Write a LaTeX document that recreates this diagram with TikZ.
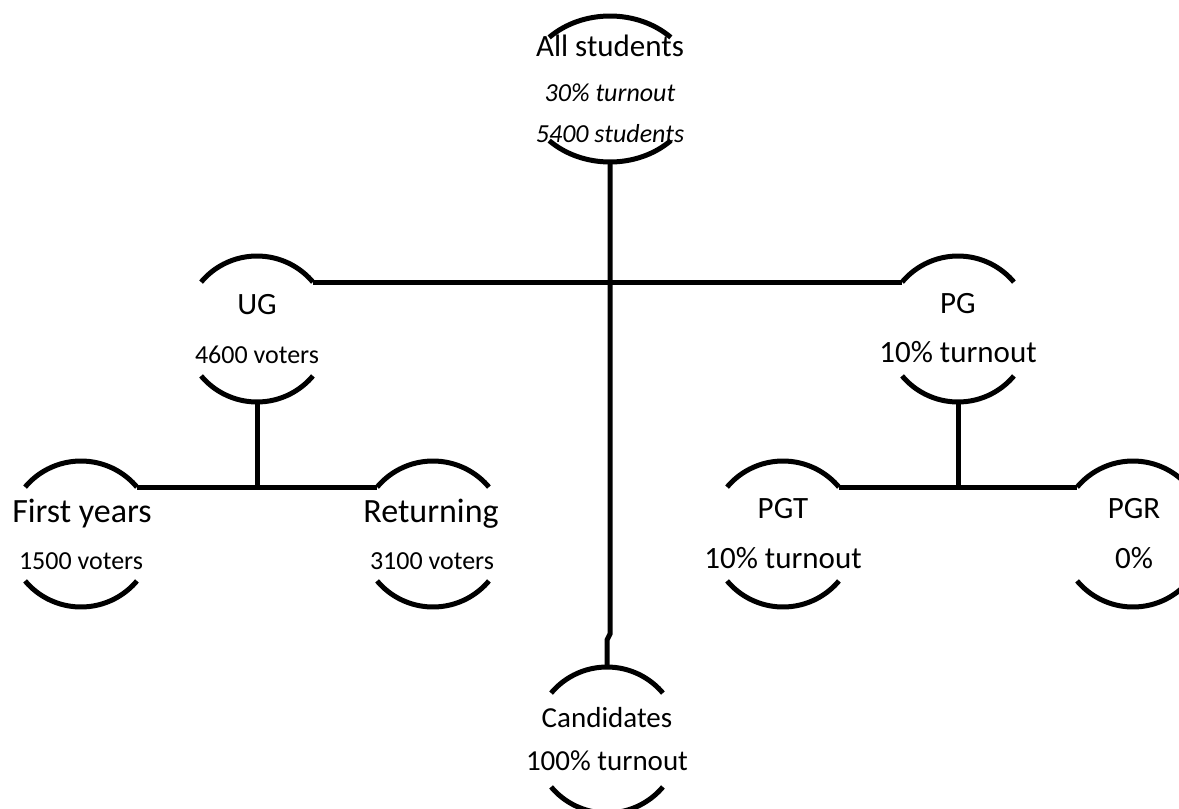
\documentclass[tikz,border=0pt]{standalone}
\usepackage{fontspec}
\setmainfont{Carlito}

\begin{document}
\begin{tikzpicture}[x=1pt, y=1pt, line width=5pt,
  group/.style={circle, minimum size=146pt, inner sep=0pt, outer sep=0pt},
  big/.style={anchor=base, font=\fontsize{31}{37}\selectfont},
  huge/.style={anchor=base, font=\fontsize{34}{40}\selectfont},
  small/.style={anchor=base, font=\fontsize{26}{31}\selectfont},
  mid/.style={anchor=base, font=\fontsize{29}{35}\selectfont}]
  \useasboundingbox (0,0) rectangle (1179,-809);
  \clip (0,0) rectangle (1179,-809);

  % groups
  \node[group] (all) at (610,-89) {};
  \node[group] (ug) at (257,-329) {};
  \node[group] (pg) at (958,-329) {};
  \node[group] (first) at (81,-534) {};
  \node[group] (ret) at (433,-534) {};
  \node[group] (pgt) at (783,-534) {};
  \node[group] (pgr) at (1133,-534) {};
  \node[group] (cand) at (607,-740) {};

  % arcs above and below each group
  \draw (all) ++(135:86pt and 73pt) arc[start angle=135, end angle=45, x radius=86pt, y radius=73pt];
  \draw (all) ++(225:86pt and 73pt) arc[start angle=225, end angle=315, x radius=86pt, y radius=73pt];
  \foreach \g in {ug,pg,first,ret,pgt,pgr,cand} {
    \draw (\g.140) arc[start angle=140, end angle=40, radius=73pt];
    \draw (\g.220) arc[start angle=220, end angle=320, radius=73pt];
  }

  % labels
  \node[big] (all-name) at (610,-56) {All students};
  \node[small, font=\fontsize{26}{31}\selectfont\itshape] (all-turnout) at (610,-101) {30\% turnout};
  \node[small, font=\fontsize{26}{31}\selectfont\itshape] (all-count) at (610,-142) {5400 students};
  \node[big] (ug-name) at (257,-314) {UG};
  \node[small] (ug-count) at (257,-363) {4600 voters};
  \node[big] (pg-name) at (958,-313) {PG};
  \node[big] (pg-turnout) at (958,-362) {10\% turnout};
  \node[huge] (first-name) at (82,-522) {First years};
  \node[small] (first-count) at (81,-569) {1500 voters};
  \node[huge] (ret-name) at (431,-522) {Returning};
  \node[small] (ret-count) at (432,-569) {3100 voters};
  \node[big] (pgt-name) at (783,-518) {PGT};
  \node[big] (pgt-turnout) at (783,-568) {10\% turnout};
  \node[big] (pgr-name) at (1134,-518) {PGR};
  \node[big] (pgr-turnout) at (1134,-568) {0\%};
  \node[mid] (cand-name) at (607,-727) {Candidates};
  \node[mid] (cand-turnout) at (607,-770) {100\% turnout};

  % connectors
  \coordinate (kink) at (610,-634);
  \coordinate (kink2) at (607,-640);
  \draw (all.south) -- (kink) -- (kink2) -- (cand.north);
  \draw (ug.40) -- (pg.140);
  \draw (ug.south) -- (ug.south |- first.40);
  \draw (first.40) -- (ret.140);
  \draw (pg.south) -- (pg.south |- pgt.40);
  \draw (pgt.40) -- (pgr.140);
\end{tikzpicture}
\end{document}
